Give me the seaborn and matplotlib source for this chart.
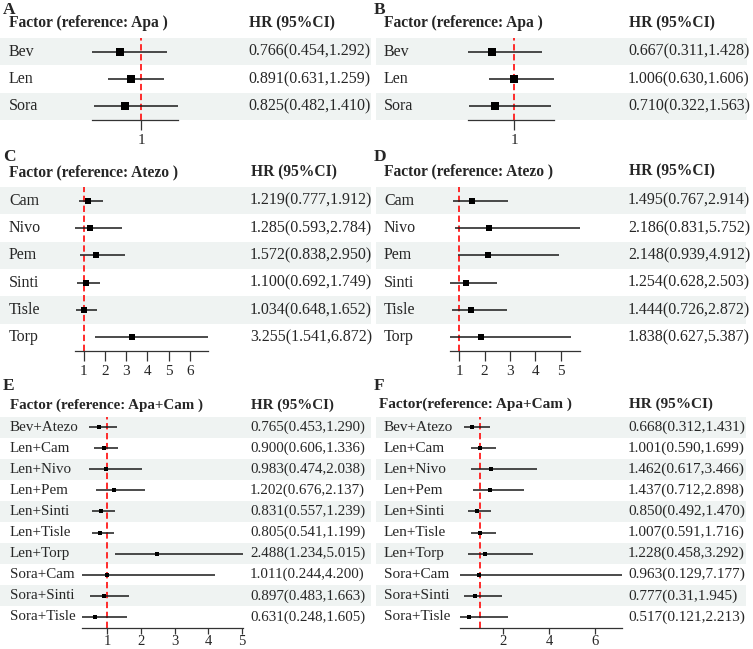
import numpy as np
import pandas as pd
import matplotlib
matplotlib.use("Agg")
import matplotlib.pyplot as plt
import seaborn as sns
from matplotlib.patches import Rectangle

# ---------------- data ----------------
A_factor = ["Bev", "Len", "Sora"]
A_hr = [0.766, 0.891, 0.825]
A_lo = [0.454, 0.631, 0.482]
A_hi = [1.292, 1.259, 1.410]
A_txt = ["0.766(0.454,1.292)", "0.891(0.631,1.259)", "0.825(0.482,1.410)"]
A_ticks = [1]

B_factor = ["Bev", "Len", "Sora"]
B_hr = [0.667, 1.006, 0.710]
B_lo = [0.311, 0.630, 0.322]
B_hi = [1.428, 1.606, 1.563]
B_txt = ["0.667(0.311,1.428)", "1.006(0.630,1.606)", "0.710(0.322,1.563)"]
B_ticks = [1]

C_factor = ["Cam", "Nivo", "Pem", "Sinti", "Tisle", "Torp"]
C_hr = [1.219, 1.285, 1.572, 1.100, 1.034, 3.255]
C_lo = [0.777, 0.593, 0.838, 0.692, 0.648, 1.541]
C_hi = [1.912, 2.784, 2.950, 1.749, 1.652, 6.872]
C_txt = ["1.219(0.777,1.912)", "1.285(0.593,2.784)", "1.572(0.838,2.950)",
         "1.100(0.692,1.749)", "1.034(0.648,1.652)", "3.255(1.541,6.872)"]
C_ticks = [1, 2, 3, 4, 5, 6]

D_factor = ["Cam", "Nivo", "Pem", "Sinti", "Tisle", "Torp"]
D_hr = [1.495, 2.186, 2.148, 1.254, 1.444, 1.838]
D_lo = [0.767, 0.831, 0.939, 0.628, 0.726, 0.627]
D_hi = [2.914, 5.752, 4.912, 2.503, 2.872, 5.387]
D_txt = ["1.495(0.767,2.914)", "2.186(0.831,5.752)", "2.148(0.939,4.912)",
         "1.254(0.628,2.503)", "1.444(0.726,2.872)", "1.838(0.627,5.387)"]
D_ticks = [1, 2, 3, 4, 5]

E_factor = ["Bev+Atezo", "Len+Cam", "Len+Nivo", "Len+Pem", "Len+Sinti",
            "Len+Tisle", "Len+Torp", "Sora+Cam", "Sora+Sinti", "Sora+Tisle"]
E_hr = [0.765, 0.900, 0.983, 1.202, 0.831, 0.805, 2.488, 1.011, 0.897, 0.631]
E_lo = [0.453, 0.606, 0.474, 0.676, 0.557, 0.541, 1.234, 0.244, 0.483, 0.248]
E_hi = [1.290, 1.336, 2.038, 2.137, 1.239, 1.199, 5.015, 4.200, 1.663, 1.605]
E_txt = ["0.765(0.453,1.290)", "0.900(0.606,1.336)", "0.983(0.474,2.038)",
         "1.202(0.676,2.137)", "0.831(0.557,1.239)", "0.805(0.541,1.199)",
         "2.488(1.234,5.015)", "1.011(0.244,4.200)", "0.897(0.483,1.663)",
         "0.631(0.248,1.605)"]
E_ticks = [1, 2, 3, 4, 5]

F_factor = ["Bev+Atezo", "Len+Cam", "Len+Nivo", "Len+Pem", "Len+Sinti",
            "Len+Tisle", "Len+Torp", "Sora+Cam", "Sora+Sinti", "Sora+Tisle"]
F_hr = [0.668, 1.001, 1.462, 1.437, 0.850, 1.007, 1.228, 0.963, 0.777, 0.517]
F_lo = [0.312, 0.590, 0.617, 0.712, 0.492, 0.591, 0.458, 0.129, 0.31, 0.121]
F_hi = [1.431, 1.699, 3.466, 2.898, 1.470, 1.716, 3.292, 7.177, 1.945, 2.213]
F_txt = ["0.668(0.312,1.431)", "1.001(0.590,1.699)", "1.462(0.617,3.466)",
         "1.437(0.712,2.898)", "0.850(0.492,1.470)", "1.007(0.591,1.716)",
         "1.228(0.458,3.292)", "0.963(0.129,7.177)", "0.777(0.31,1.945)",
         "0.517(0.121,2.213)"]
F_ticks = [2, 4, 6]

headers = {
    "A": "Factor (reference: Apa )",
    "B": "Factor (reference: Apa )",
    "C": "Factor (reference: Atezo )",
    "D": "Factor (reference: Atezo )",
    "E": "Factor (reference: Apa+Cam )",
    "F": "Factor(reference: Apa+Cam )",
}
hr_header = "HR (95%CI)"

# ---------------- style / layout ----------------
sns.set_theme(style="white")
plt.rcParams["font.family"] = ["Liberation Serif", "DejaVu Serif"]

W, H = 753, 649
fig = plt.figure(figsize=(W / 100, H / 100), dpi=100)
bg = fig.add_axes([0, 0, 1, 1])
bg.set_xlim(0, W)
bg.set_ylim(H, 0)
bg.axis("off")

BAND = "#eff3f2"

layout = {
    "A": dict(let=(3, 10), hy=23, top=38, bot=120, bx=(0, 371), lx=9, hx=248, ax=(91.9, 177.9), fs=11.5, hfs=11.2, ms=30, tl=7, pad=3, lsz=11),
    "B": dict(let=(374, 10), hy=23, top=38, bot=120, bx=(376, 747), lx=384, hx=628, ax=(468.3, 554.3), fs=11.5, hfs=11.2, ms=30, tl=7, pad=3, lsz=11),
    "C": dict(let=(3, 157), hy=172, top=187, bot=351, bx=(0, 371), lx=9, hx=250, ax=(75.0, 208.3), fs=11.5, hfs=11.2, ms=22, tl=7, pad=3, lsz=11),
    "D": dict(let=(374, 157), hy=171, top=187, bot=351, bx=(376, 746), lx=384, hx=628, ax=(449.8, 580.0), fs=11.5, hfs=11.2, ms=22, tl=7, pad=3, lsz=11),
    "E": dict(let=(3, 386), hy=405, top=416.5, bot=627.5, bx=(0, 371), lx=10, hx=250, ax=(81.5, 242.5), fs=10.8, hfs=10.8, ms=12, tl=4.5, pad=1, lsz=10.5),
    "F": dict(let=(374, 386), hy=404, top=416.5, bot=627.5, bx=(376, 746), lx=384, hx=628, ax=(459.8, 622.0), fs=11.0, hfs=11.0, ms=12, tl=4.5, pad=1, lsz=10.5),
}

panels = {
    "A": (A_factor, A_hr, A_lo, A_hi, A_txt, A_ticks),
    "B": (B_factor, B_hr, B_lo, B_hi, B_txt, B_ticks),
    "C": (C_factor, C_hr, C_lo, C_hi, C_txt, C_ticks),
    "D": (D_factor, D_hr, D_lo, D_hi, D_txt, D_ticks),
    "E": (E_factor, E_hr, E_lo, E_hi, E_txt, E_ticks),
    "F": (F_factor, F_hr, F_lo, F_hi, F_txt, F_ticks),
}

for key, (factor, hr, lo, hi, txt, ticks) in panels.items():
    g = layout[key]
    n = len(factor)
    rh = (g["bot"] - g["top"]) / n
    fs = g["fs"]

    # letter and header
    bg.text(g["let"][0], g["let"][1], key, fontsize=12.5, fontweight="bold",
            ha="left", va="center")
    hx0 = g["lx"] if key != "F" else g["lx"] - 5
    bg.text(hx0, g["hy"], headers[key], fontsize=g["hfs"], fontweight="bold",
            ha="left", va="center")
    bg.text(g["hx"] + 1, g["hy"], hr_header, fontsize=g["hfs"], fontweight="bold",
            ha="left", va="center")

    # bands + table text
    for i in range(n):
        yc = g["top"] + (i + 0.5) * rh
        if i % 2 == 0:
            bg.add_patch(Rectangle((g["bx"][0], g["top"] + i * rh),
                                   g["bx"][1] - g["bx"][0], rh,
                                   facecolor=BAND, edgecolor="none", zorder=0))
        bg.text(g["lx"], yc, factor[i], fontsize=fs, ha="left", va="center")
        bg.text(g["hx"], yc, txt[i], fontsize=fs, ha="left", va="center")

    # forest axes
    x0, x1 = g["ax"]
    ax = fig.add_axes([x0 / W, 1 - g["bot"] / H, (x1 - x0) / W,
                       (g["bot"] - g["top"]) / H])
    ax.patch.set_alpha(0)
    df = pd.DataFrame({"factor": factor, "hr": hr, "lo": lo, "hi": hi,
                       "row": np.arange(n) + 0.5})
    ax.hlines(df["row"], df["lo"], df["hi"], color="#1a1a1a", lw=1.1, zorder=2)
    ax.axvline(1, color="#ff1a1a", ls=(0, (3.5, 2)), lw=1.3, zorder=1)
    sns.scatterplot(data=df, x="hr", y="row", marker="s", s=g["ms"],
                    color="black", edgecolor="black", linewidth=0,
                    ax=ax, zorder=3, legend=False, clip_on=False)
    ax.set_xlim(min(lo), max(hi))
    ax.set_ylim(n, 0)
    for sp in ["top", "left", "right"]:
        ax.spines[sp].set_visible(False)
    ax.spines["bottom"].set_color("#333333")
    ax.spines["bottom"].set_linewidth(0.9)
    ax.set_yticks([])
    ax.set_xticks(ticks)
    ax.set_xticklabels([str(t) for t in ticks])
    ax.tick_params(axis="x", bottom=True, direction="out", length=g["tl"],
                   width=0.9, color="#333333", labelsize=g["lsz"], pad=g["pad"])
    ax.set_xlabel("")
    ax.set_ylabel("")

fig.savefig("out.png", dpi=100)
